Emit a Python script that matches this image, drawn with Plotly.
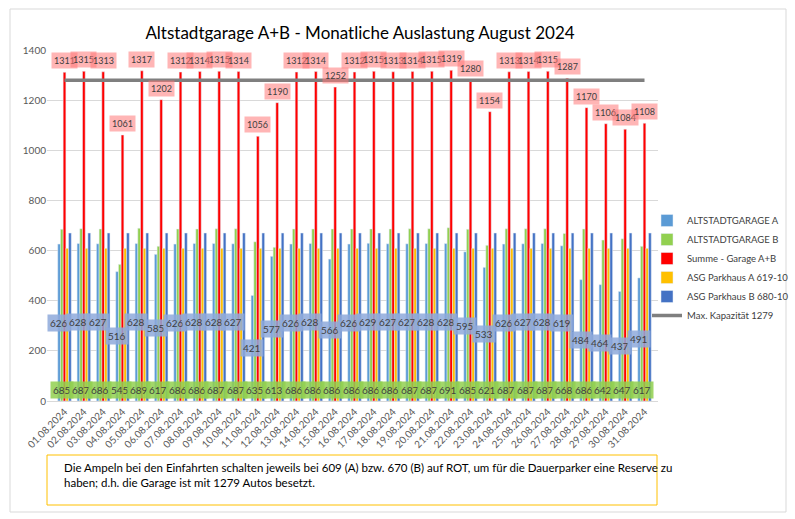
import plotly.graph_objects as go

dates = [f"{d:02d}.08.2024" for d in range(1, 32)]
garage_a = [626, 628, 627, 516, 628, 585, 626, 628, 628, 627, 421, 577, 626, 628, 566, 626,
            629, 627, 627, 628, 628, 595, 533, 626, 627, 628, 619, 484, 464, 437, 491]
garage_b = [685, 687, 686, 545, 689, 617, 686, 686, 687, 687, 635, 613, 686, 686, 686, 686,
            686, 686, 687, 687, 691, 685, 621, 687, 687, 687, 668, 686, 642, 647, 617]
summe = [1311, 1315, 1313, 1061, 1317, 1202, 1312, 1314, 1315, 1314, 1056, 1190, 1312, 1314, 1252, 1312,
         1315, 1313, 1314, 1315, 1319, 1280, 1154, 1313, 1314, 1315, 1287, 1170, 1106, 1084, 1108]
parkhaus_a = [609] * 31
parkhaus_b = [670] * 31
max_kap = [1279] * 31

W, H = 795, 519
ML = 47
MT = 50
MR = W - 658
MB = H - 401
plot_w = W - ML - MR
plot_h = H - MT - MB
bargap = 0.3
cat_w = plot_w / len(dates)
bar_w = cat_w * (1 - bargap) / 5

FONT = "Lato"
fig = go.Figure()
fig.add_bar(x=dates, y=garage_a, name="ALTSTADTGARAGE A", marker_color="#5B9BD5")
fig.add_bar(x=dates, y=garage_b, name="ALTSTADTGARAGE B", marker_color="#92D050")
fig.add_bar(x=dates, y=summe, name="Summe - Garage A+B", marker_color="#FF0000")
fig.add_bar(x=dates, y=parkhaus_a, name="ASG Parkhaus A 619-10", marker_color="#FFC000")
fig.add_bar(x=dates, y=parkhaus_b, name="ASG Parkhaus B 680-10", marker_color="#4472C4")
fig.add_scatter(x=dates, y=max_kap, name="Max. Kapazität 1279", mode="lines",
                line=dict(color="#7F7F7F", width=3.5))

ann = []
lab_font = dict(family=FONT, size=10, color="#404040")
sum_font = dict(family=FONT, size=9, color="#404040")
for d, a, b, s in zip(dates, garage_a, garage_b, summe):
    ann.append(dict(x=d, y=s, text=str(s), showarrow=False, yanchor="bottom", yshift=3,
                    font=sum_font, bgcolor="rgba(255,120,120,0.55)", borderpad=2))
    ann.append(dict(x=d, y=a / 2, text=str(a), showarrow=False, xshift=-2 * bar_w,
                    font=lab_font, bgcolor="rgba(142,169,219,0.85)", borderpad=2))
    ann.append(dict(x=d, y=0, text=str(b), showarrow=False, yanchor="bottom", yshift=2,
                    xshift=-1 * bar_w,
                    font=lab_font, bgcolor="rgba(146,208,80,0.85)", borderpad=2))

def px_x(p):
    return (p - ML) / plot_w

def px_y(p):
    return (H - MB - p) / plot_h

ann.append(dict(xref="paper", yref="paper", x=px_x(62), y=px_y(459), xanchor="left", yanchor="top",
                align="left", showarrow=False,
                text="Die Ampeln bei den Einfahrten schalten jeweils bei 609 (A) bzw. 670 (B) auf ROT, um für die Dauerparker eine Reserve zu<br>haben; d.h. die Garage ist mit 1279 Autos besetzt.",
                font=dict(family=FONT, size=11.5, color="#000000")))

shapes = [
    dict(type="rect", xref="paper", yref="paper", x0=px_x(47), x1=px_x(657), y0=px_y(505), y1=px_y(455),
         line=dict(color="#FFC000", width=1)),
    dict(type="rect", xref="paper", yref="paper", x0=px_x(10), x1=px_x(786), y0=px_y(512), y1=px_y(9),
         line=dict(color="#D9D9D9", width=1)),
]

fig.update_layout(
    width=W, height=H,
    margin=dict(l=ML, r=MR, t=MT, b=MB, autoexpand=False),
    paper_bgcolor="white", plot_bgcolor="white",
    barmode="group", bargap=bargap, bargroupgap=0,
    title=dict(text="Altstadtgarage A+B - Monatliche Auslastung August 2024",
               x=360 / W, xref="container", y=1 - 33 / H, yref="container",
               xanchor="center", yanchor="middle",
               font=dict(family=FONT, size=17, color="#000000")),
    font=dict(family=FONT, size=10, color="#595959"),
    legend=dict(x=647 / W, y=1 - 206 / H, xref="container", yref="container",
                xanchor="left", yanchor="top",
                font=dict(family=FONT, size=9.5, color="#404040"),
                tracegroupgap=2, itemwidth=30, bgcolor="rgba(0,0,0,0)"),
    annotations=ann,
    shapes=shapes,
)
fig.update_xaxes(tickangle=-45, showline=True, linecolor="#D9D9D9", ticks="", automargin=False,
                 tickfont=dict(family=FONT, size=10, color="#595959"))
fig.update_yaxes(range=[0, 1400], dtick=200, gridcolor="#D9D9D9", zeroline=False, automargin=False,
                 tickfont=dict(family=FONT, size=10, color="#595959"))

fig.write_html("out.html", config={"displayModeBar": False},
               post_script="document.body.style.margin='0';document.body.style.overflow='hidden';")
